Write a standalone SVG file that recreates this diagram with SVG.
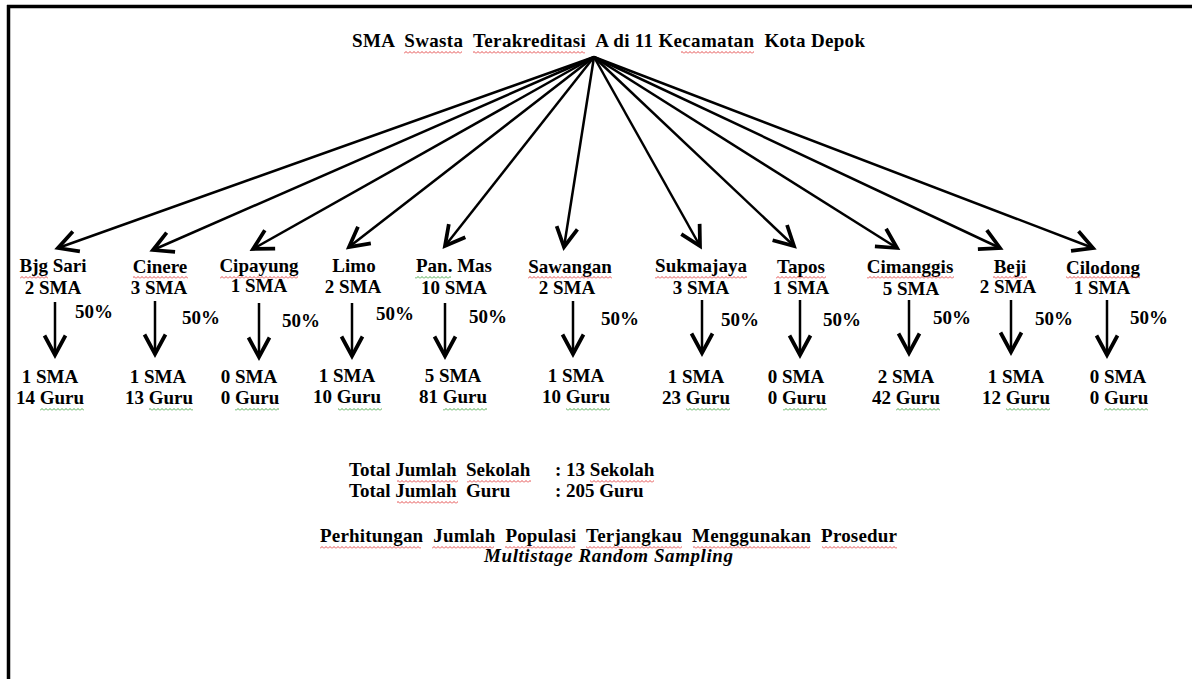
<svg xmlns="http://www.w3.org/2000/svg" width="1192" height="679" viewBox="0 0 1192 679">
<defs>
<style>
.t{font-family:"Liberation Serif","Times New Roman",serif;font-weight:bold;font-size:19px;fill:#000}
.m{text-anchor:middle}
.c line{stroke:#000;stroke-width:2.5;fill:none}
.f line{marker-end:url(#ah)}
.v line{marker-end:url(#ah)}
.sr{fill:url(#sqR)}
.sg{fill:url(#sqG)}
</style>
<marker id="ah" markerUnits="userSpaceOnUse" orient="auto" markerWidth="30" markerHeight="30" refX="0" refY="0" viewBox="-16 -10 20 20" overflow="visible">
<path d="M-13,-7 L0,0 L-13,7" fill="none" stroke="#000" stroke-width="2.5" stroke-linejoin="miter"/>
</marker>
<pattern id="sqR" width="4" height="3" patternUnits="userSpaceOnUse">
<path d="M0,2.5 L2,0.5 L4,2.5" fill="none" stroke="#e23a3a" stroke-width="0.9"/>
</pattern>
<pattern id="sqG" width="4" height="3" patternUnits="userSpaceOnUse">
<path d="M0,2.5 L2,0.5 L4,2.5" fill="none" stroke="#3aa03a" stroke-width="0.9"/>
</pattern>
</defs>
<rect width="1192" height="679" fill="#fff"/>
<g id="border" stroke="#000" stroke-width="3.5">
<line x1="7" y1="6.5" x2="1192" y2="6.5"/>
<line x1="8.5" y1="5" x2="8.5" y2="679"/>
</g>

<g id="title">
<text class="t" x="352" y="47" textLength="513" lengthAdjust="spacing" xml:space="preserve">SMA  Swasta  Terakreditasi  A di 11 Kecamatan  Kota Depok</text>
<rect class="sr" x="404" y="51" width="58" height="3"/>
<rect class="sr" x="473" y="51" width="112" height="3"/>
<rect class="sr" x="681" y="51" width="73" height="3"/>
</g>

<g id="connectors" class="c">
<g class="f">
<line x1="594" y1="57" x2="58" y2="248"/>
<line x1="594" y1="57" x2="153" y2="250"/>
<line x1="594" y1="57" x2="253" y2="249"/>
<line x1="594" y1="57" x2="349" y2="247"/>
<line x1="594" y1="57" x2="445" y2="246"/>
<line x1="594" y1="57" x2="564" y2="247"/>
<line x1="594" y1="57" x2="700" y2="246"/>
<line x1="594" y1="57" x2="794" y2="246"/>
<line x1="594" y1="57" x2="897" y2="248"/>
<line x1="594" y1="57" x2="1000" y2="248"/>
<line x1="594" y1="57" x2="1093" y2="248"/>
</g>
<g class="v">
<line x1="55" y1="302" x2="55" y2="355"/>
<line x1="155" y1="301" x2="155" y2="354"/>
<line x1="259" y1="303" x2="259" y2="357"/>
<line x1="352" y1="303" x2="352" y2="356"/>
<line x1="445" y1="303" x2="445" y2="356"/>
<line x1="573" y1="301" x2="573" y2="354"/>
<line x1="702" y1="300" x2="702" y2="353"/>
<line x1="800" y1="300" x2="800" y2="355"/>
<line x1="909" y1="300" x2="909" y2="353"/>
<line x1="1011" y1="300" x2="1011" y2="352"/>
<line x1="1107" y1="300" x2="1107" y2="355"/>
</g>
</g>

<g id="bjgsari">
<text class="t m" x="53" y="272">Bjg Sari</text>
<rect class="sr" x="20" y="276" width="28" height="3"/>
<text class="t m" x="53" y="294">2 SMA</text>
<text class="t" x="75" y="318">50%</text>
<text class="t m" x="50" y="383">1 SMA</text>
<text class="t m" x="50" y="404">14 Guru</text>
<rect class="sg" x="40" y="408" width="44" height="3"/>
</g>

<g id="cinere">
<text class="t m" x="160" y="273">Cinere</text>
<rect class="sr" x="133" y="276" width="55" height="3"/>
<text class="t m" x="159" y="294">3 SMA</text>
<text class="t" x="182" y="324">50%</text>
<text class="t m" x="158" y="383">1 SMA</text>
<text class="t m" x="159" y="404">13 Guru</text>
<rect class="sg" x="149" y="408" width="44" height="3"/>
</g>

<g id="cipayung">
<text class="t m" x="259" y="272">Cipayung</text>
<rect class="sr" x="220" y="276" width="78" height="3"/>
<text class="t m" x="259" y="292">1 SMA</text>
<text class="t" x="282" y="327">50%</text>
<text class="t m" x="249" y="383">0 SMA</text>
<text class="t m" x="250" y="404">0 Guru</text>
<rect class="sg" x="235" y="408" width="44" height="3"/>
</g>

<g id="limo">
<text class="t m" x="354" y="272">Limo</text>
<text class="t m" x="353" y="293">2 SMA</text>
<text class="t" x="376" y="320">50%</text>
<text class="t m" x="347" y="382">1 SMA</text>
<text class="t m" x="347" y="403">10 Guru</text>
<rect class="sg" x="338" y="408" width="44" height="3"/>
</g>

<g id="panmas">
<text class="t m" x="454" y="272">Pan. Mas</text>
<rect class="sg" x="415" y="276" width="36" height="3"/>
<text class="t m" x="454" y="294">10 SMA</text>
<text class="t" x="469" y="323">50%</text>
<text class="t m" x="453" y="382">5 SMA</text>
<text class="t m" x="453" y="403">81 Guru</text>
<rect class="sg" x="443" y="408" width="44" height="3"/>
</g>

<g id="sawangan">
<text class="t m" x="570" y="273">Sawangan</text>
<rect class="sr" x="528" y="276" width="84" height="3"/>
<text class="t m" x="567" y="294">2 SMA</text>
<text class="t" x="601" y="325">50%</text>
<text class="t m" x="576" y="382">1 SMA</text>
<text class="t m" x="576" y="403">10 Guru</text>
<rect class="sg" x="566" y="408" width="44" height="3"/>
</g>

<g id="sukmajaya">
<text class="t m" x="701" y="272">Sukmajaya</text>
<rect class="sr" x="655" y="276" width="92" height="3"/>
<text class="t m" x="701" y="294">3 SMA</text>
<text class="t" x="721" y="326">50%</text>
<text class="t m" x="696" y="383">1 SMA</text>
<text class="t m" x="696" y="404">23 Guru</text>
<rect class="sg" x="686" y="408" width="44" height="3"/>
</g>

<g id="tapos">
<text class="t m" x="801" y="273">Tapos</text>
<rect class="sr" x="776" y="276" width="50" height="3"/>
<text class="t m" x="801" y="294">1 SMA</text>
<text class="t" x="823" y="326">50%</text>
<text class="t m" x="796" y="383">0 SMA</text>
<text class="t m" x="797" y="404">0 Guru</text>
<rect class="sg" x="783" y="408" width="44" height="3"/>
</g>

<g id="cimanggis">
<text class="t m" x="910" y="273">Cimanggis</text>
<rect class="sr" x="867" y="276" width="87" height="3"/>
<text class="t m" x="911" y="295">5 SMA</text>
<text class="t" x="933" y="324">50%</text>
<text class="t m" x="906" y="383">2 SMA</text>
<text class="t m" x="906" y="404">42 Guru</text>
<rect class="sg" x="896" y="408" width="44" height="3"/>
</g>

<g id="beji">
<text class="t m" x="1010" y="273">Beji</text>
<rect class="sr" x="993" y="276" width="34" height="3"/>
<text class="t m" x="1008" y="293">2 SMA</text>
<text class="t" x="1035" y="325">50%</text>
<text class="t m" x="1016" y="383">1 SMA</text>
<text class="t m" x="1016" y="404">12 Guru</text>
<rect class="sg" x="1006" y="408" width="44" height="3"/>
</g>

<g id="cilodong">
<text class="t m" x="1103" y="274">Cilodong</text>
<rect class="sr" x="1066" y="276" width="74" height="3"/>
<text class="t m" x="1102" y="294">1 SMA</text>
<text class="t" x="1130" y="324">50%</text>
<text class="t m" x="1118" y="383">0 SMA</text>
<text class="t m" x="1119" y="404">0 Guru</text>
<rect class="sg" x="1104" y="408" width="44" height="3"/>
</g>

<g id="totals">
<text class="t" x="349" y="476" xml:space="preserve">Total Jumlah  Sekolah</text>
<text class="t" x="555" y="476">: 13 Sekolah</text>
<text class="t" x="349" y="497" xml:space="preserve">Total Jumlah  Guru</text>
<text class="t" x="555" y="497">: 205 Guru</text>
<rect class="sr" x="397" y="480" width="61" height="3"/>
<rect class="sr" x="467" y="480" width="64" height="3"/>
<rect class="sr" x="590" y="480" width="64" height="3"/>
<rect class="sr" x="397" y="501" width="61" height="3"/>
</g>

<g id="procedure">
<text class="t" x="320" y="542" textLength="577" lengthAdjust="spacing" xml:space="preserve">Perhitungan  Jumlah  Populasi  Terjangkau  Menggunakan  Prosedur</text>
<rect class="sr" x="320" y="546" width="101" height="3"/>
<rect class="sr" x="432" y="546" width="62" height="3"/>
<rect class="sr" x="505" y="546" width="70" height="3"/>
<rect class="sr" x="586" y="546" width="96" height="3"/>
<rect class="sr" x="693" y="546" width="117" height="3"/>
<rect class="sr" x="822" y="546" width="75" height="3"/>
<text class="t" x="484" y="562" textLength="249" lengthAdjust="spacing" font-style="italic">Multistage Random Sampling</text>
</g>
</svg>
